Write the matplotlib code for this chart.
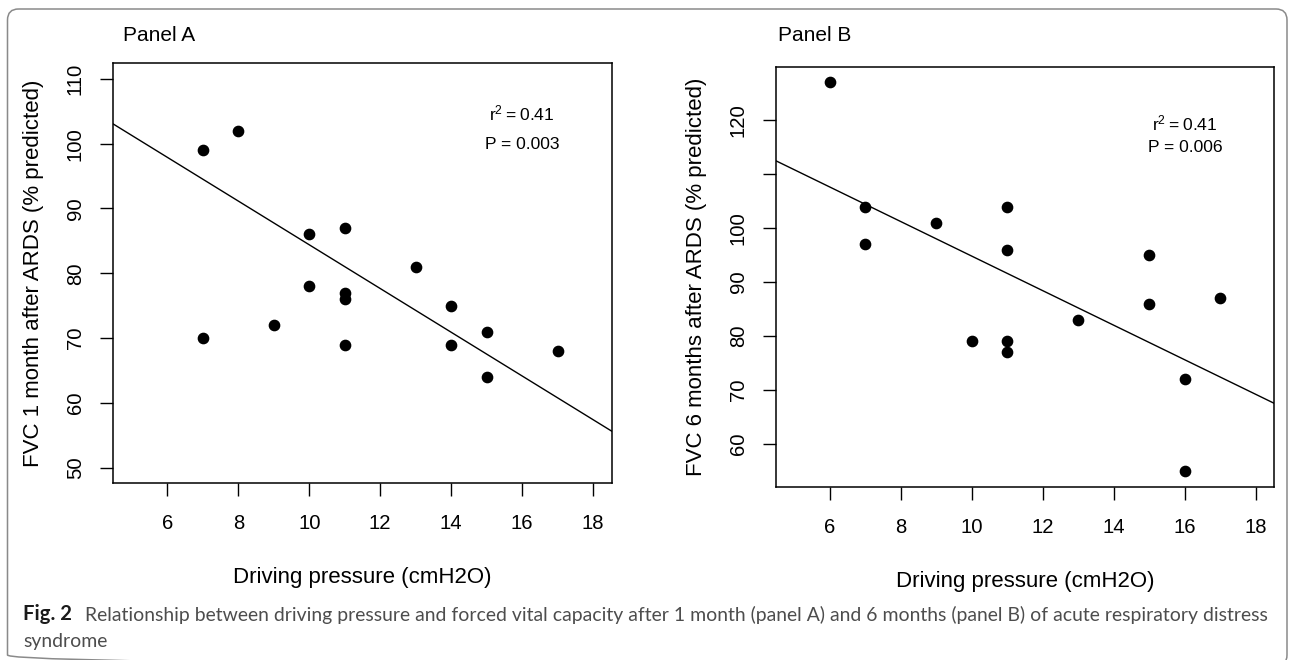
import matplotlib
matplotlib.use("Agg")
import matplotlib.pyplot as plt
from matplotlib.patches import FancyBboxPatch
import numpy as np

# ---------------- data ----------------
a_x = [7, 8, 7, 9, 10, 10, 11, 11, 11, 11, 13, 14, 14, 15, 15, 17]
a_y = [99, 102, 70, 72, 86, 78, 87, 77, 76, 69, 81, 75, 69, 71, 64, 68]
a_line = [118.15, -3.375]          # intercept, slope of drawn fit

b_x = [6, 7, 7, 9, 10, 11, 11, 11, 11, 13, 15, 15, 16, 16, 17]
b_y = [127, 104, 97, 101, 79, 104, 96, 79, 77, 83, 95, 86, 72, 55, 87]
b_line = [126.8, -3.2]

x_ticks = [6, 8, 10, 12, 14, 16, 18]
a_yticks = [50, 60, 70, 80, 90, 100, 110]
b_yticks = [60, 70, 80, 90, 100, 110, 120]
b_ytick_labels = ["60", "70", "80", "90", "100", "", "120"]

a_title = "Panel A"
b_title = "Panel B"
a_ylabel = "FVC 1 month after ARDS (% predicted)"
b_ylabel = "FVC 6 months after ARDS (% predicted)"
xlabel = "Driving pressure (cmH2O)"
a_stats = [r"$\mathregular{r^2 = 0.41}$", "P = 0.003"]
b_stats = [r"$\mathregular{r^2 = 0.41}$", "P = 0.006"]
cap_bold = "Fig. 2"
cap_line1 = ("Relationship between driving pressure and forced vital capacity after 1 month "
             "(panel A) and 6 months (panel B) of acute respiratory distress")
cap_line2 = "syndrome"

# ---------------- figure ----------------
W, H = 1289, 660
fig = plt.figure(figsize=(W / 100, H / 100), dpi=100)
plt.rcParams['font.family'] = ['Liberation Sans', 'DejaVu Sans']
plt.rcParams['mathtext.fontset'] = 'custom'
plt.rcParams['mathtext.rm'] = 'Liberation Sans'

# background axes in pixel coords
bg = fig.add_axes([0, 0, 1, 1], zorder=-1)
bg.set_xlim(0, W)
bg.set_ylim(H, 0)
bg.axis('off')
bg.add_patch(FancyBboxPatch((7.5, 9), 1287 - 7.5, 666 - 9,
                            boxstyle="round,pad=0,rounding_size=11",
                            fill=False, edgecolor="#8a8a8a", linewidth=1.1,
                            clip_on=False))


def px_axes(l, t, r, b):
    return fig.add_axes([l / W, 1 - b / H, (r - l) / W, (b - t) / H])


def style(ax, xlim, ylim, yticks, ylabels):
    ax.set_xlim(*xlim)
    ax.set_ylim(*ylim)
    ax.set_xticks(x_ticks)
    ax.set_xticklabels([str(t) for t in x_ticks])
    ax.set_yticks(yticks)
    ax.set_yticklabels(ylabels)
    for s in ax.spines.values():
        s.set_linewidth(1.1)
    ax.tick_params(direction='out', length=9.4, width=1.0, labelsize=14.6)
    ax.tick_params(axis='x', pad=13)
    ax.tick_params(axis='y', pad=11)
    for lab in ax.get_yticklabels():
        lab.set_rotation(90)
        lab.set_va('center')
        lab.set_ha('right')


xl = (4.48, 18.52)

# Panel A
axA = px_axes(113.3, 63.3, 611.7, 483.3)
style(axA, xl, (47.6, 112.4), a_yticks, [str(t) for t in a_yticks])
axA.plot(a_x, a_y, 'o', color='black', markersize=7.4, linestyle='none')
xx = np.array(xl)
axA.plot(xx, a_line[0] + a_line[1] * xx, color='black', linewidth=1.0)
axA.text(16, 104.6, a_stats[0], ha='center', va='center', fontsize=12.6)
axA.text(16, 99.9, a_stats[1], ha='center', va='center', fontsize=12.6)

# Panel B
axB = px_axes(776, 66.7, 1274.3, 486.7)
style(axB, xl, (52.1, 129.9), b_yticks, b_ytick_labels)
axB.plot(b_x, b_y, 'o', color='black', markersize=7.4, linestyle='none')
axB.plot(xx, b_line[0] + b_line[1] * xx, color='black', linewidth=1.0)
axB.text(16, 119.4, b_stats[0], ha='center', va='center', fontsize=12.6)
axB.text(16, 114.9, b_stats[1], ha='center', va='center', fontsize=12.6)

# titles and axis labels (pixel coordinates)
bg.text(123, 35.5, a_title, ha='left', va='center', fontsize=15)
bg.text(778, 35.5, b_title, ha='left', va='center', fontsize=15)
bg.text(362.5, 577.5, xlabel, ha='center', va='center', fontsize=16)
bg.text(1025, 581, xlabel, ha='center', va='center', fontsize=16)
bg.text(34, 273.3, a_ylabel, ha='center', va='center', rotation=90, fontsize=16)
bg.text(696.7, 276.7, b_ylabel, ha='center', va='center', rotation=90, fontsize=16)

# caption, fitted to the measured widths
cap_font = ['Lato', 'DejaVu Sans']
renderer = fig.canvas.get_renderer()
tb = bg.text(23.3, 620.5, cap_bold, ha='left', va='baseline', fontsize=12,
             fontweight='bold', family=cap_font, color='#1a1a1a')
t1 = bg.text(85, 620.5, cap_line1, ha='left', va='baseline', fontsize=12,
             family=cap_font, color='#4d4d4d')
wb = tb.get_window_extent(renderer).width
w1 = t1.get_window_extent(renderer).width
tb.set_fontsize(12 * 48.4 / wb)
s1 = 12 * 1177.7 / w1
t1.set_fontsize(s1)
bg.text(23.3, 646.5, cap_line2, ha='left', va='baseline', fontsize=s1,
        family=cap_font, color='#4d4d4d')

fig.savefig("out.png", dpi=100)
